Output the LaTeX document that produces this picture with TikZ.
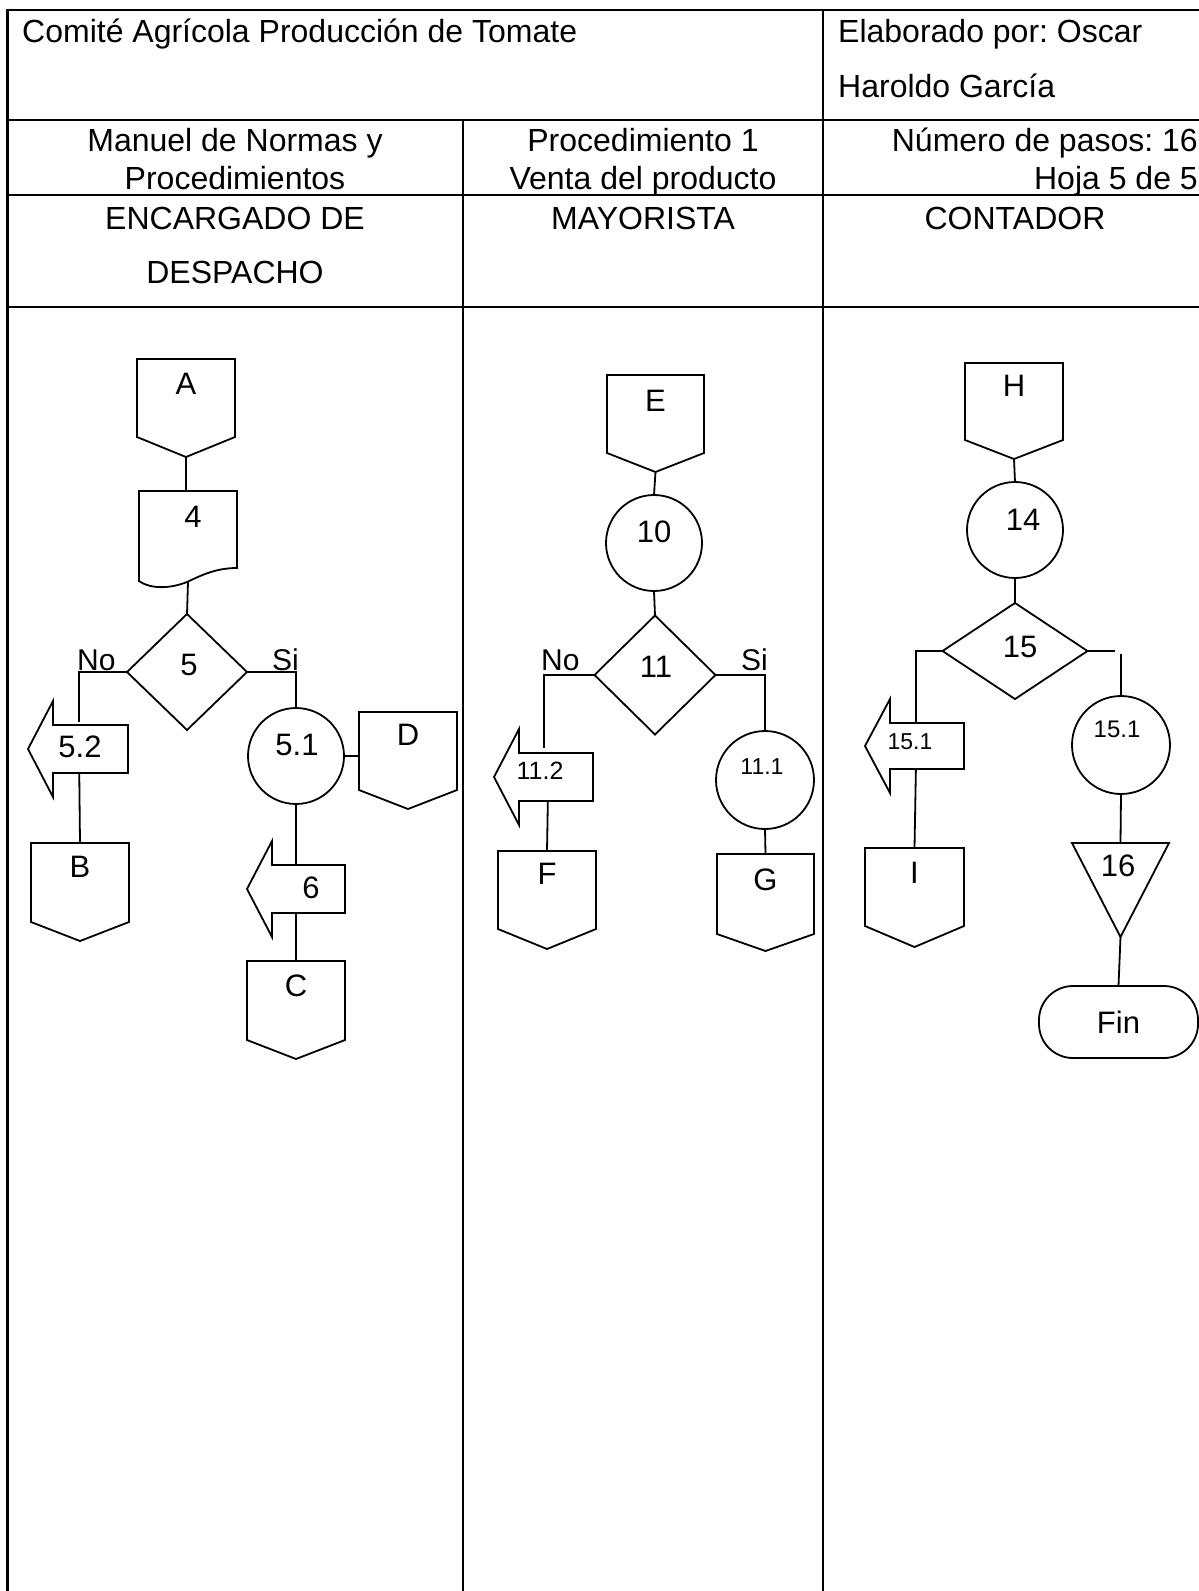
\documentclass[tikz,border=0pt]{standalone}
\usepackage{fontspec}
\setmainfont{Liberation Sans}
\frenchspacing
\usetikzlibrary{shapes.geometric,calc}
\tikzset{
  shp/.style={draw, line width=1.8pt, line join=miter},
  conn/.style={line width=1.8pt},
  tbl/.style={line width=2.9pt},
  bb/.style={rectangle, draw=none, inner sep=0pt, outer sep=0pt},
  circ/.style={circle, draw, line width=1.8pt, inner sep=0pt, outer sep=0pt},
  dia/.style={diamond, draw, line width=1.8pt, inner sep=0pt, outer sep=0pt},
  lbl/.style={inner sep=0pt, font=\fontsize{31}{36}\selectfont},
  yn/.style={inner sep=0pt, anchor=base west, font=\fontsize{30}{36}\selectfont},
  hdr/.style={inner sep=0pt, font=\fontsize{32}{38}\selectfont},
}
\newcommand\offpage[8]{%
  \node[bb, minimum width=#4pt, minimum height=#5pt, anchor=north] (#1) at (#2,#3) {};
  \draw[shp] (#1.north west) -- (#1.north east) -- ([yshift=#6pt]#1.south east) -- (#1.south) -- ([yshift=#6pt]#1.south west) -- cycle;
  \node[lbl] (#1t) at (#2,#7) {#8};}
\newcommand\larrow[9]{%
  \node[bb, minimum width=#4pt, minimum height=#5pt] (#1) at (#2,#3) {};
  \draw[shp] (#1.north east) -- (#1.south east) -- (#1.south west) -- ([yshift=-24pt]#1.south west) -- ([xshift=-25pt]#1.west) -- ([yshift=24pt]#1.north west) -- (#1.north west) -- cycle;
  \node[#9] (#1t) at (#6,#7) {#8};}
\begin{document}
\begin{tikzpicture}[x=1pt,y=-1pt]
\useasboundingbox (0,0) rectangle (1199,1591);
\clip (0,0) rectangle (1199,1591);
% table
\draw[tbl] (7.5,1600) -- (7.5,10) -- (1210,10);
\draw[tbl] (823,10) -- (823,1600);
\draw[tbl] (463,120) -- (463,1600);
\draw[tbl] (7.5,120) -- (1210,120);
\draw[tbl] (7.5,195) -- (1210,195);
\draw[tbl] (7.5,307) -- (1210,307);
% header texts
\node[hdr, anchor=base west] (t1) at (22,42) {Comité Agrícola Producción de Tomate};
\node[hdr, anchor=base west] (t2) at (838,42) {Elaborado por: Oscar};
\node[hdr, anchor=base west] (t3) at (838,97) {Haroldo García};
\node[hdr, anchor=base] (t4) at (235,151) {Manuel de Normas y};
\node[hdr, anchor=base] (t5) at (235,189) {Procedimientos};
\node[hdr, anchor=base] (t6) at (643,151) {Procedimiento 1};
\node[hdr, anchor=base] (t7) at (643,189) {Venta del producto};
\node[hdr, anchor=base east] (t8) at (1198,151) {Número de pasos: 16};
\node[hdr, anchor=base east] (t9) at (1198,189) {Hoja 5 de 5};
\node[hdr, anchor=base] (t10) at (235,229) {ENCARGADO DE};
\node[hdr, anchor=base] (t11) at (235,283) {DESPACHO};
\node[hdr, anchor=base] (t12) at (643,229) {MAYORISTA};
\node[hdr, anchor=base] (t13) at (1015,229) {CONTADOR};
% ---------- lane 1 ----------
\offpage{A}{186}{359}{98}{98}{20}{384}{A}
\node[bb, minimum width=98pt, minimum height=96pt, anchor=north] (doc4) at (188,491) {};
\draw[shp] (139,491) -- (237,491) -- (237,568) .. controls (215,568) and (200,576) .. (187,582) .. controls (172,588) and (152,590) .. (139,581) -- cycle;
\node[lbl] (doc4t) at (193,517) {4};
\node[dia, minimum width=120pt, minimum height=116pt] (d5) at (187,672) {};
\node[lbl] (d5t) at (189,665) {5};
\node[yn] (no1) at (77,670) {No};
\node[yn] (si1) at (272,670) {Si};
\larrow{a52}{90.5}{749}{75}{48}{80}{747}{5.2}{lbl}
\offpage{B}{80}{843}{98}{98}{19}{867}{B}
\node[circ, minimum size=96pt] (c51) at (296,756) {};
\node[lbl] (c51t) at (297,745) {5.1};
\offpage{D}{408}{712}{98}{97}{19}{735}{D}
\larrow{a6}{308.5}{889}{73}{48}{311}{888}{6}{lbl}
\offpage{C}{296}{961}{98}{98}{19}{986}{C}
\draw[conn] (A.south) -- (A.south |- doc4.north);
\draw[conn] ([yshift=5pt]doc4.south) -- (d5.north);
\draw[conn] (d5.west) -| ($(a52.north west)!0.35!(a52.north east)+(0,-3)$);
\draw[conn] ($(a52.south west)!0.35!(a52.south east)$) -- (B.north);
\draw[conn] (d5.east) -| (c51.north);
\draw[conn] (c51.east) -- (c51.east -| D.west);
\draw[conn] (c51.south) -- ($(a6.north west)!0.33!(a6.north east)$);
\draw[conn] ($(a6.south west)!0.33!(a6.south east)$) -- (C.north);
% ---------- lane 2 ----------
\offpage{E}{655.5}{375}{97}{97}{19}{401}{E}
\node[circ, minimum size=96pt] (c10) at (654,543) {};
\node[lbl] (c10t) at (654,532) {10};
\node[dia, minimum width=121pt, minimum height=119pt] (d11) at (655,675) {};
\node[lbl] (d11t) at (656,667) {11};
\node[yn] (no2) at (541,670) {No};
\node[yn] (si2) at (741,670) {Si};
\larrow{a112}{556}{777}{74}{48}{540}{771}{11.2}{inner sep=0pt, font=\fontsize{25}{30}\selectfont}
\offpage{F}{547}{851}{98}{98}{20}{874}{F}
\node[circ, minimum size=98pt] (c111) at (765,780) {};
\node[inner sep=0pt, font=\fontsize{23}{28}\selectfont] (c111t) at (762,767) {11.1};
\offpage{G}{765.5}{854}{97}{97}{17}{880}{G}
\draw[conn] (E.south) -- (c10.north);
\draw[conn] (c10.south) -- (d11.north);
\draw[conn] (d11.west) -| ($(a112.north west)!0.34!(a112.north east)+(0,-5)$);
\draw[conn] ($(a112.south west)!0.39!(a112.south east)$) -- (F.north);
\draw[conn] (d11.east) -| (c111.north);
\draw[conn] (c111.south) -- (G.north);
% ---------- lane 3 ----------
\offpage{H}{1014}{363}{98}{96}{19}{386}{H}
\node[circ, minimum size=96pt] (c14) at (1015,530) {};
\node[lbl] (c14t) at (1023,520) {14};
\node[dia, minimum width=145pt, minimum height=96pt] (d15) at (1015,651) {};
\node[lbl] (d15t) at (1020,647) {15};
\larrow{a151}{927}{746}{74}{46}{910}{742}{15.1}{inner sep=0pt, font=\fontsize{23}{28}\selectfont}
\offpage{I}{914.5}{848}{99}{99}{21}{873}{I}
\node[circ, minimum size=98pt] (c151) at (1121,745) {};
\node[inner sep=0pt, font=\fontsize{24}{29}\selectfont] (c151t) at (1117,729) {15.1};
\node[bb, minimum width=97pt, minimum height=94pt, anchor=north] (tri) at (1120.5,843) {};
\draw[shp] (tri.north west) -- (tri.north east) -- (tri.south) -- cycle;
\node[lbl] (trit) at (1118,866) {16};
\node[draw, line width=1.8pt, rounded corners=34pt, minimum width=159pt, minimum height=72pt, inner sep=0pt, outer sep=0pt, font=\fontsize{31}{36}\selectfont] (fin) at (1118.5,1022) {Fin};
\draw[conn] (H.south) -- (c14.north);
\draw[conn] (c14.south) -- (d15.north);
\draw[conn] (d15.west) -| ($(a151.north west)!0.35!(a151.north east)$);
\draw[conn] ($(a151.south west)!0.35!(a151.south east)$) -- (I.north);
\draw[conn] (d15.east) -- ([xshift=-6pt]c151.north |- d15.east);
\draw[conn] ([yshift=-3pt]c151.north |- d15.east) -- (c151.north);
\draw[conn] (c151.south) -- (tri.north);
\draw[conn] (tri.south) -- (fin.north);
\end{tikzpicture}
\end{document}
